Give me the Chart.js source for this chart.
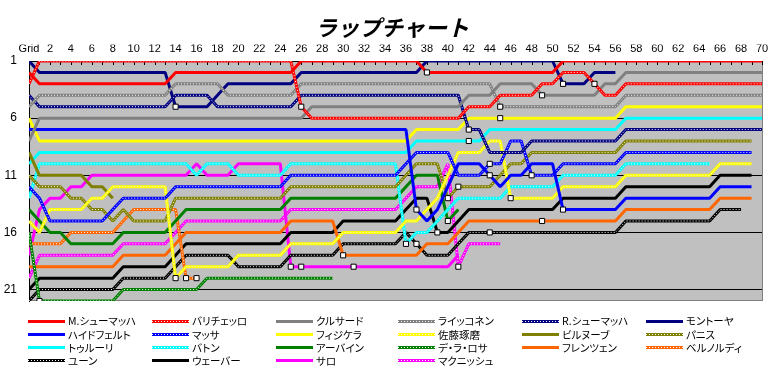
<!DOCTYPE html>
<html><head><meta charset="utf-8">
<script src="https://cdn.jsdelivr.net/npm/chart.js@4/dist/chart.umd.min.js"></script>
<style>
html,body{margin:0;padding:0;background:#fff;}
#wrap{position:relative;width:784px;height:375px;overflow:hidden;}
#c{position:absolute;left:0;top:0;}
.lg{position:absolute;height:14px;display:flex;align-items:center;white-space:nowrap;font-family:"Noto Sans CJK JP";font-size:10.5px;font-feature-settings:"palt";color:#000;line-height:14px;}
.lg svg{display:block;margin-right:3px;flex:none;}
</style></head><body>
<div id="wrap"><canvas id="c" width="784" height="375"></canvas><div id="legend"></div></div>
<script>
const _ = null;
const TITLE = 'ラップチャート';
const LAPS = [0,1,2,3,4,5,6,7,8,9,10,11,12,13,14,15,16,17,18,19,20,21,22,23,24,25,26,27,28,29,30,31,32,33,34,35,36,37,38,39,40,41,42,43,44,45,46,47,48,49,50,51,52,53,54,55,56,57,58,59,60,61,62,63,64,65,66,67,68,69,70];
const Y_TICKS = [1,6,11,16,21];

// positions per lap (index 0 = grid)
const MSCH = [2,3,3,3,3,3,3,3,3,3, 3,3,3,3,2,2,2,2,2,2, 2,2,2,2,2,2,1,1,1,1, 1,1,1,1,1,1,1,1,2,2, 2,2,2,2,2,2,2,2,2,2, 2,1,1,1,1,1,1,1,1,1, 1,1,1,1,1,1,1,1,1,1, 1];
const BARR = [3,1,1,1,1,1,1,1,1,1, 1,1,1,1,1,1,1,1,1,1, 1,1,1,1,1,1,5,6,6,6, 6,6,6,6,6,6,6,6,6,6, 6,6,5,5,5,4,4,4,4,3, 3,2,2,2,3,4,4,3,3,3, 3,3,3,3,3,3,3,3,3,3, 3];
const COUL = [8,6,6,6,6,6,6,6,6,6, 6,6,6,6,6,6,6,6,6,6, 6,6,6,6,6,6,6,5,5,5, 5,5,5,5,5,5,5,5,5,5, 5,5,4,4,4,3,3,3,3,4, 4,4,4,4,4,3,3,2,2,2, 2,2,2,2,2,2,2,2,2,2, 2];
const RAIK = [5,4,4,4,4,4,4,4,4,4, 4,4,4,4,3,3,3,3,3,4, 4,4,4,4,4,4,3,3,3,3, 3,3,3,3,3,3,3,3,3,3, 3,3,3,3,3,5,5,5,5,5, 5,5,5,5,5,5,5,4,4,4, 4,4,4,4,4,4,4,4,4,4, 4];
const RSCH = [4,5,5,5,5,5,5,5,5,5, 5,5,5,5,4,4,4,4,5,5, 5,5,5,5,5,5,4,4,4,4, 4,4,4,4,4,4,4,4,4,4, 4,4,7,7,9,9,9,9,8,8, 8,8,8,8,8,8,8,7,7,7, 7,7,7,7,7,7,7,7,7,7, 7];
const MONT = [1,2,2,2,2,2,2,2,2,2, 2,2,2,2,5,5,5,5,4,3, 3,3,3,3,3,3,2,2,2,2, 2,2,2,2,2,2,2,2,1,1, 1,1,1,1,1,1,1,1,1,1, 1,3,3,3,2,2,2,_,_,_, _,_,_,_,_,_,_,_,_,_, _];
const HEID = [7,7,7,7,7,7,7,7,7,7, 7,7,7,7,7,7,7,7,7,7, 7,7,7,7,7,7,7,7,7,7, 7,7,7,7,7,7,7,14,15,14, 12,10,10,10,11,12,11,11,10,10, 10,14,14,14,14,14,14,13,13,13, 13,13,13,13,13,13,12,12,12,12, _];
const MASS = [12,13,15,15,15,15,15,15,14,13, 13,13,13,13,12,12,12,12,12,12, 12,12,12,12,12,11,11,11,11,11, 11,11,11,11,11,11,10,9,9,9, 9,11,11,11,10,10,8,8,11,11, 11,10,10,10,10,10,10,9,9,9, 9,9,9,9,9,9,9,9,9,9, _];
const FISI = [6,8,8,8,8,8,8,8,8,8, 8,8,8,8,8,8,8,8,8,8, 8,8,8,8,8,8,8,8,8,8, 8,8,8,8,8,8,8,7,7,7, 7,7,6,6,6,6,6,6,6,6, 6,6,6,6,6,6,6,5,5,5, 5,5,5,5,5,5,5,5,5,5, 5];
const SATO = [15,16,14,14,14,14,13,13,12,12, 12,12,12,12,20,19,19,19,19,19, 18,18,18,18,18,17,17,17,17,17, 16,16,16,16,16,16,15,15,14,13, 11,9,9,9,8,8,13,13,13,13, 13,12,12,12,12,12,12,11,11,11, 11,11,11,11,11,11,10,10,10,10, _];
const VILL = [9,11,11,11,11,11,12,12,13,_, _,_,_,_,_,_,_,_,_,_, _,_,_,_,_,_,_,_,_,_, _,_,_,_,_,_,_,_,_,_, _,_,_,_,_,_,_,_,_,_, _,_,_,_,_,_,_,_,_,_, _,_,_,_,_,_,_,_,_,_, _];
const PANI = [11,12,12,12,13,13,14,14,15,14, 15,15,15,15,13,13,13,13,13,13, 13,13,13,13,13,12,12,12,12,12, 12,12,12,12,12,12,11,10,10,10, 13,12,12,12,12,11,10,10,9,9, 9,9,9,9,9,9,9,8,8,8, 8,8,8,8,8,8,8,8,8,8, _];
const TRUL = [10,9,9,9,9,9,9,9,9,9, 9,9,9,9,9,9,9,9,9,9, 9,9,9,9,9,9,9,9,9,9, 9,9,9,9,9,9,9,8,8,8, 8,8,8,8,7,7,7,7,7,7, 7,7,7,7,7,7,7,6,6,6, 6,6,6,6,6,6,6,6,6,6, 6];
const BUTT = [13,10,10,10,10,10,10,10,10,10, 10,10,10,10,10,10,11,10,10,10, 11,11,11,11,11,10,10,10,10,10, 10,10,10,10,10,10,17,16,16,15, 14,13,13,13,13,13,12,12,12,12, 12,11,11,11,11,11,11,10,10,10, 10,10,10,10,10,10,_,_,_,_, _];
const IRVI = [14,15,16,16,17,17,17,17,17,16, 16,16,16,16,15,14,14,14,14,14, 14,14,14,14,14,13,13,13,13,13, 13,13,13,13,13,13,12,11,11,11, 15,14,_,_,_,_,_,_,_,_, _,_,_,_,_,_,_,_,_,_, _,_,_,_,_,_,_,_,_,_, _];
const DLRO = [16,22,22,22,22,22,22,22,22,21, 21,21,21,21,21,21,21,20,20,20, 20,20,20,20,20,20,20,20,20,20, _,_,_,_,_,_,_,_,_,_, _,_,_,_,_,_,_,_,_,_, _,_,_,_,_,_,_,_,_,_, _,_,_,_,_,_,_,_,_,_, _];
const FREN = [19,19,19,19,19,19,19,19,19,18, 18,18,18,18,17,16,16,16,16,16, 16,16,16,16,16,15,15,15,15,15, 18,18,18,18,18,18,18,18,17,17, 17,16,15,15,15,15,15,15,15,15, 15,15,15,15,15,15,15,14,14,14, 14,14,14,14,14,14,13,13,13,13, _];
const BERN = [17,17,17,17,16,16,16,16,16,15, 14,14,14,14,14,20,20,_,_,_, _,_,_,_,_,_,_,_,_,_, _,_,_,_,_,_,_,_,_,_, _,_,_,_,_,_,_,_,_,_, _,_,_,_,_,_,_,_,_,_, _,_,_,_,_,_,_,_,_,_, _];
const YOON = [22,21,21,21,21,21,21,21,21,20, 20,20,20,20,19,18,18,18,18,18, 19,19,19,19,19,18,18,18,18,18, 17,17,17,17,17,17,16,17,18,18, 18,17,16,16,16,16,16,16,16,16, 16,16,16,16,16,16,16,15,15,15, 15,15,15,15,15,15,14,14,14,_, _];
const WEBB = [21,20,20,20,20,20,20,20,20,19, 19,19,19,19,18,17,17,17,17,17, 17,17,17,17,17,16,16,16,16,16, 15,15,15,15,15,15,14,13,13,16, 16,15,14,14,14,14,14,14,14,14, 14,13,13,13,13,13,13,12,12,12, 12,12,12,12,12,12,11,11,11,11, _];
const SALO = [18,14,13,13,12,12,11,11,11,11, 11,11,11,11,11,11,10,11,11,11, 10,10,10,10,10,19,19,19,19,19, 19,19,19,19,19,19,19,19,19,19, 19,18,_,_,_,_,_,_,_,_, _,_,_,_,_,_,_,_,_,_, _,_,_,_,_,_,_,_,_,_, _];
const MCNI = [20,18,18,18,18,18,18,18,18,17, 17,17,17,17,16,15,15,15,15,15, 15,15,15,15,15,14,14,14,14,14, 14,14,14,14,14,14,13,12,12,12, 10,19,17,17,17,17,_,_,_,_, _,_,_,_,_,_,_,_,_,_, _,_,_,_,_,_,_,_,_,_, _];

// pit-stop laps
const PIT_MSCH=[38], PIT_BARR=[26,54], PIT_COUL=[49], PIT_RAIK=[45], PIT_RSCH=[42], PIT_MONT=[14,51];
const PIT_HEID=[37,44,51], PIT_MASS=[44,48], PIT_FISI=[45], PIT_SATO=[14,46], PIT_VILL=[], PIT_PANI=[40,41];
const PIT_TRUL=[42], PIT_BUTT=[36], PIT_IRVI=[40], PIT_DLRO=[1], PIT_FREN=[30,49], PIT_BERN=[15,16];
const PIT_YOON=[37,44], PIT_WEBB=[39], PIT_SALO=[25,26,31], PIT_MCNI=[41];

const NAMES = ['M.シューマッハ','バリチェッロ','クルサード','ライッコネン','R.シューマッハ','モントーヤ','ハイドフェルト','マッサ','フィジケラ','佐藤琢磨','ビルヌーブ','パニス','トゥルーリ','バトン','アーバイン','デ・ラ・ロサ','フレンツェン','ベルノルディ','ユーン','ウェーバー','サロ','マクニッシュ'];
const SERIES = [MSCH,BARR,COUL,RAIK,RSCH,MONT,HEID,MASS,FISI,SATO,VILL,PANI,TRUL,BUTT,IRVI,DLRO,FREN,BERN,YOON,WEBB,SALO,MCNI];
const PITS = [PIT_MSCH,PIT_BARR,PIT_COUL,PIT_RAIK,PIT_RSCH,PIT_MONT,PIT_HEID,PIT_MASS,PIT_FISI,PIT_SATO,PIT_VILL,PIT_PANI,PIT_TRUL,PIT_BUTT,PIT_IRVI,PIT_DLRO,PIT_FREN,PIT_BERN,PIT_YOON,PIT_WEBB,PIT_SALO,PIT_MCNI];
const COLORS = ['#ff0000','#ff0000','#808080','#808080','#000080','#000080','#0000ff','#0000ff','#ffff00','#ffff00','#808000','#808000','#00ffff','#00ffff','#008000','#008000','#ff6600','#ff6600','#000000','#000000','#ff00ff','#ff00ff'];
const DOTTED = [false,true,false,true,true,false,false,true,false,true,false,true,false,true,false,true,false,true,true,false,false,true];

const datasets = SERIES.map((arr,i)=>({
  label: NAMES[i],
  data: arr.map((p,k)=>({x:LAPS[k], y:p})),
  borderColor: COLORS[i], backgroundColor: COLORS[i],
  borderWidth: 3, pointRadius: 0, pointHoverRadius: 0, tension: 0,
  borderJoinStyle: 'bevel', spanGaps: false, fill: false,
  dotted: DOTTED[i]
}));
const pitPts = [];
SERIES.forEach((arr,i)=>PITS[i].forEach(l=>pitPts.push({x:l, y:arr[l]})));
datasets.push({
  label:'pit', data: pitPts, showLine:false, order:-1,
  pointStyle:'rect', pointRadius:3.6, pointBackgroundColor:'#ffffff',
  pointBorderColor:'#000000', pointBorderWidth:1, pointHoverRadius:3.6
});

const frame = {
  id:'frame',
  beforeDraw(chart){
    const {ctx, chartArea:a} = chart;
    ctx.save(); ctx.fillStyle='#c0c0c0';
    ctx.fillRect(a.left, a.top, a.right-a.left, a.bottom-a.top);
    ctx.restore();
  },
  beforeDatasetsDraw(chart){
    const {ctx, chartArea:a, scales} = chart;
    ctx.save();
    ctx.strokeStyle='#808080'; ctx.lineWidth=1; ctx.beginPath();
    ctx.moveTo(a.left, a.bottom-0.5); ctx.lineTo(a.right+1, a.bottom-0.5);
    ctx.moveTo(a.right+0.5, a.top); ctx.lineTo(a.right+0.5, a.bottom);
    ctx.stroke();
    ctx.strokeStyle='#000'; ctx.beginPath();
    LAPS.forEach(l=>{ const x=Math.round(scales.x.getPixelForValue(l))+0.5; ctx.moveTo(x,a.top); ctx.lineTo(x,a.top+4); });
    ctx.stroke();
    ctx.restore();
  }
};
const dots = {
  id:'dots',
  afterDatasetDraw(chart, args){
    const ds = chart.data.datasets[args.index];
    if(!ds.dotted) return;
    const ctx = chart.ctx;
    ctx.save();
    ctx.strokeStyle='#ffffff'; ctx.lineWidth=1; ctx.setLineDash([1,2]);
    ctx.beginPath();
    let pen=false;
    args.meta.data.forEach(pt=>{
      if(pt.skip){pen=false;return;}
      if(!pen){ctx.moveTo(pt.x,pt.y);pen=true;} else ctx.lineTo(pt.x,pt.y);
    });
    ctx.stroke(); ctx.restore();
  }
};

new Chart(document.getElementById('c'), {
  type:'line',
  data:{datasets},
  options:{
    responsive:false, animation:false, events:[],
    layout:{padding:{left:0,right:0,top:0,bottom:74}},
    plugins:{
      legend:{display:false}, tooltip:{enabled:false},
      title:{display:true, text:TITLE, color:'#000',
        font:{family:"'Noto Sans CJK JP'", size:22, style:'italic', weight:'bold', lineHeight:1.2},
        padding:{top:14,bottom:4}}
    },
    scales:{
      x:{type:'linear', position:'top', min:0, max:70,
        ticks:{stepSize:2, autoSkip:false, maxRotation:0, minRotation:0, padding:5, color:'#000',
          font:{family:"'Liberation Sans'", size:11}, callback:v=>v===0?'Grid':String(v)},
        grid:{display:false, drawTicks:false}, border:{display:false},
        afterFit:s=>{s.height=16.6;}},
      y:{type:'linear', reverse:true, min:1, max:22,
        afterBuildTicks:s=>{s.ticks=Y_TICKS.map(v=>({value:v}));},
        ticks:{padding:12, color:'#000', font:{family:"'Liberation Sans'", size:12}},
        grid:{color:'#000', lineWidth:1, drawTicks:false},
        border:{display:true, color:'#000'},
        afterFit:s=>{s.width=29;}},
      yR:{type:'linear', position:'right', display:true, min:1, max:22,
        ticks:{display:false}, grid:{display:false, drawTicks:false}, border:{display:false},
        afterFit:s=>{s.width=22;}}
    }
  },
  plugins:[frame, dots]
});

// legend
const COL_X = [28,152,276,398,522,646];
const ROW_Y = [321,334.5,347.5,360.5];
const lg = document.getElementById('legend');
NAMES.forEach((n,i)=>{
  const col=i%6, row=Math.floor(i/6);
  const d=document.createElement('div');
  d.className='lg';
  d.style.left=COL_X[col]+'px';
  d.style.top=(ROW_Y[row]-7)+'px';
  const c=COLORS[i];
  d.innerHTML='<svg width="37" height="5"><line x1="0" y1="2.5" x2="37" y2="2.5" stroke="'+c+'" stroke-width="3"/>'+
    (DOTTED[i]?'<line x1="0" y1="2.5" x2="37" y2="2.5" stroke="#fff" stroke-width="1" stroke-dasharray="1 2"/>':'')+
    '</svg>';
  const s=document.createElement('span'); s.textContent=n; d.appendChild(s);
  lg.appendChild(d);
});
</script></body></html>
